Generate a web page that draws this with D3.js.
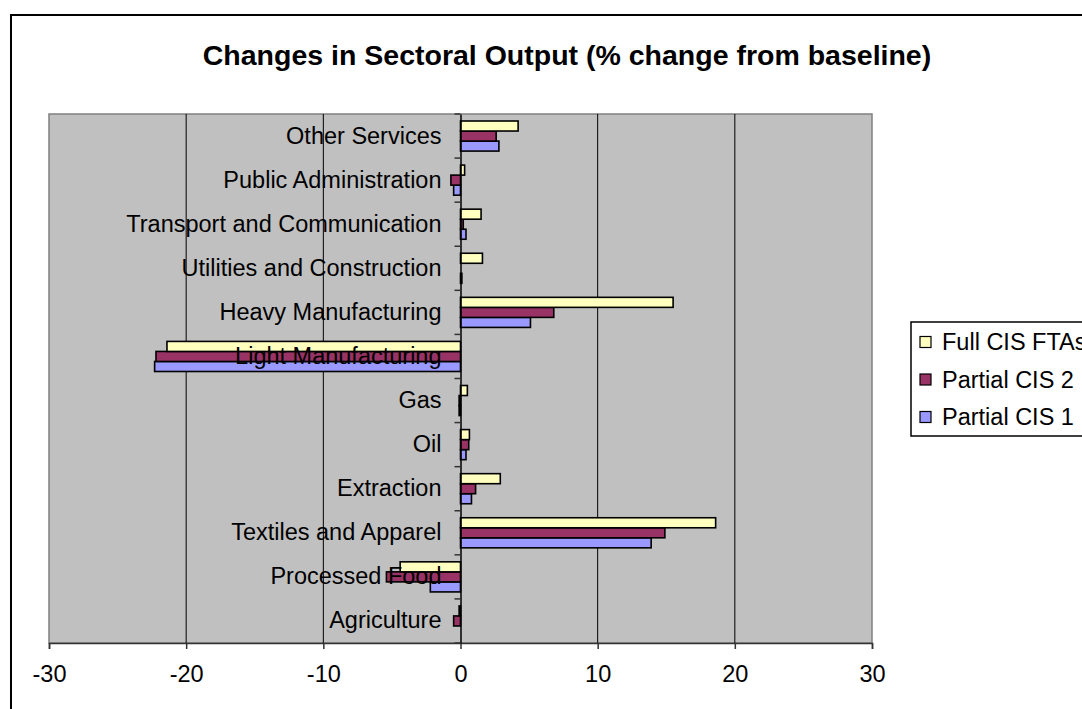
<!DOCTYPE html>
<html>
<head>
<meta charset="utf-8">
<script src="https://cdn.jsdelivr.net/npm/d3@7"></script>
<style>
  html, body { margin: 0; padding: 0; background: #ffffff; }
  svg { display: block; font-family: "Liberation Sans", Arial, sans-serif; }
</style>
</head>
<body>
<svg id="chart" width="1082" height="709"></svg>
<script>
// Sectors, listed from the bottom of the chart to the top
const categories = [
  "Agriculture", "Processed Food", "Textiles and Apparel", "Extraction", "Oil", "Gas",
  "Light Manufacturing", "Heavy Manufacturing", "Utilities and Construction",
  "Transport and Communication", "Public Administration", "Other Services"
];

// % change in output from baseline, one value per sector (same order)
const partialCIS1 = [0.0, -2.2, 13.9, 0.8, 0.4, -0.1, -22.3, 5.1, 0.1, 0.4, -0.5, 2.8];
const partialCIS2 = [-0.5, -5.4, 14.9, 1.1, 0.6, -0.1, -22.2, 6.8, 0.0, 0.2, -0.7, 2.6];
const fullCISFTAs = [-0.1, -4.4, 18.6, 2.9, 0.65, 0.5, -21.4, 15.5, 1.6, 1.5, 0.3, 4.2];

const seriesNames = ["Partial CIS 1", "Partial CIS 2", "Full CIS FTAs"];
const seriesValues = [partialCIS1, partialCIS2, fullCISFTAs];
const seriesColors = ["#9999FF", "#993366", "#FFFFC0"];

const xTicks = [-30, -20, -10, 0, 10, 20, 30];
const chartTitle = "Changes in Sectoral Output (% change from baseline)";

const svg = d3.select("#chart");
const plot = { left: 49, right: 872, top: 114, bottom: 643 };
const labelSize = 23.5;

// outer chart frame
svg.append("rect")
  .attr("x", 11).attr("y", 15)
  .attr("width", 1200).attr("height", 800)
  .attr("fill", "#ffffff").attr("stroke", "#000000").attr("stroke-width", 2);

// title
svg.append("text")
  .attr("x", 567).attr("y", 65)
  .attr("text-anchor", "middle")
  .attr("font-weight", "bold")
  .attr("font-size", 28.5)
  .attr("fill", "#000")
  .text(chartTitle);

const x = d3.scaleLinear().domain([-30, 30]).range([plot.left, plot.right]);

// top-most category first in the band order
const y = d3.scaleBand()
  .domain(categories.slice().reverse())
  .range([plot.top, plot.bottom])
  .padding(0);

// series within a category: Full at the top, Partial CIS 1 at the bottom
const inner = d3.scaleBand()
  .domain(seriesNames.slice().reverse())
  .range([7, y.bandwidth() - 7])
  .padding(0);

// plot background
svg.append("rect")
  .attr("x", plot.left).attr("y", plot.top)
  .attr("width", plot.right - plot.left).attr("height", plot.bottom - plot.top)
  .attr("fill", "#C0C0C0").attr("stroke", "#808080").attr("stroke-width", 1.5);

// vertical gridlines
svg.append("g")
  .selectAll("line")
  .data(xTicks.filter(t => t !== 0 && Math.abs(t) !== 30))
  .join("line")
  .attr("x1", d => x(d)).attr("x2", d => x(d))
  .attr("y1", plot.top).attr("y2", plot.bottom)
  .attr("stroke", "#000").attr("stroke-width", 1);

// bars
const rows = [];
seriesNames.forEach((name, si) => {
  categories.forEach((cat, ci) => {
    rows.push({ name, cat, value: seriesValues[si][ci], color: seriesColors[si] });
  });
});

svg.append("g")
  .selectAll("rect")
  .data(rows)
  .join("rect")
  .attr("x", d => x(Math.min(0, d.value)))
  .attr("y", d => y(d.cat) + inner(d.name))
  .attr("width", d => Math.abs(x(d.value) - x(0)))
  .attr("height", inner.bandwidth())
  .attr("fill", d => d.color)
  .attr("stroke", "#000").attr("stroke-width", 1.6);

// x axis along the bottom
const xAxis = svg.append("g")
  .attr("transform", `translate(0,${plot.bottom})`)
  .call(d3.axisBottom(x).tickValues(xTicks).tickSize(6).tickPadding(16).tickFormat(d => String(d)));
xAxis.select(".domain").attr("stroke", "#333").attr("stroke-width", 1.5);
xAxis.selectAll(".tick line").attr("stroke", "#333").attr("stroke-width", 1.5);
xAxis.selectAll(".tick text")
  .attr("font-size", labelSize).attr("fill", "#000")
  .attr("font-family", "'Liberation Sans', Arial, sans-serif");

// category axis at zero
const yAxis = svg.append("g")
  .attr("transform", `translate(${x(0)},0)`)
  .call(d3.axisLeft(y).tickSize(0).tickPadding(19));
yAxis.select(".domain").attr("stroke", "#000").attr("stroke-width", 1.5);
yAxis.selectAll(".tick text")
  .attr("font-size", labelSize).attr("fill", "#000")
  .attr("font-family", "'Liberation Sans', Arial, sans-serif");

// tick marks between categories
const boundaries = categories.map(c => y(c)).concat([plot.bottom]);
yAxis.append("g")
  .selectAll("line")
  .data(boundaries)
  .join("line")
  .attr("x1", -6).attr("x2", 0)
  .attr("y1", d => d).attr("y2", d => d)
  .attr("stroke", "#333").attr("stroke-width", 1.5);

// legend
const legend = svg.append("g");
legend.append("rect")
  .attr("x", 911).attr("y", 322)
  .attr("width", 200).attr("height", 114)
  .attr("fill", "#ffffff").attr("stroke", "#000").attr("stroke-width", 1.5);

const legendOrder = seriesNames.slice().reverse();
const legendY = d3.scalePoint().domain(legendOrder).range([342, 417]);
const legendItems = legend.selectAll("g.item")
  .data(legendOrder)
  .join("g").attr("class", "item")
  .attr("transform", d => `translate(920,${legendY(d)})`);
legendItems.append("rect")
  .attr("x", 0).attr("y", -5.5)
  .attr("width", 11).attr("height", 11)
  .attr("fill", d => seriesColors[seriesNames.indexOf(d)])
  .attr("stroke", "#000").attr("stroke-width", 1.2);
legendItems.append("text")
  .attr("x", 22).attr("y", 0)
  .attr("dy", "0.35em")
  .attr("font-size", labelSize).attr("fill", "#000")
  .text(d => d);
</script>
</body>
</html>
